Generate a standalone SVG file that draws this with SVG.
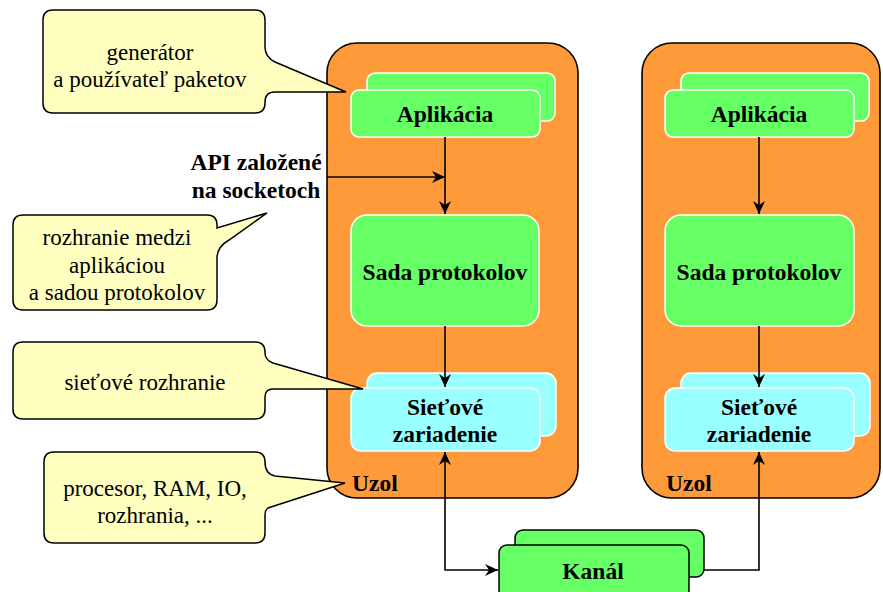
<svg xmlns="http://www.w3.org/2000/svg" width="883" height="592" viewBox="0 0 883 592">
<style>
.uzol{fill:#ff9a3a;stroke:#000;stroke-width:1.6}
.gw{fill:#66ff66;stroke:#fff;stroke-width:1.5}
.cw{fill:#99ffff;stroke:#fff;stroke-width:1.5}
.gk{fill:#66ff66;stroke:#000;stroke-width:1.5}
.call{fill:#ffffc0;stroke:#000;stroke-width:1.5}
.b{font-family:"Liberation Serif","Times New Roman",serif;font-weight:bold;font-size:23.5px;fill:#000;text-anchor:middle}
.r{font-family:"Liberation Serif","Times New Roman",serif;font-size:23px;fill:#000;text-anchor:middle}
.ln{fill:none;stroke:#000;stroke-width:1.6}
</style>
<defs>
<marker id="ah" markerUnits="userSpaceOnUse" markerWidth="14" markerHeight="12" refX="13" refY="6" orient="auto-start-reverse">
<path d="M0,0 L13,6 L0,12 L4,6 Z" fill="#000"/>
</marker>
</defs>

<g id="uzol1">
<rect class="uzol" x="327" y="43" width="251" height="455" rx="30"/>
<text class="b" x="352" y="491" style="text-anchor:start">Uzol</text>
</g>
<g id="uzol2">
<rect class="uzol" x="642" y="43" width="238" height="455" rx="30"/>
<text class="b" x="666" y="491" style="text-anchor:start">Uzol</text>
</g>

<g id="aplikacia1">
<rect class="gw" x="367" y="73" width="188" height="48" rx="8"/>
<rect class="gw" x="351" y="90" width="189" height="47" rx="8"/>
<text class="b" x="445" y="122">Aplikácia</text>
</g>
<g id="sada1">
<rect class="gw" x="351" y="215" width="188" height="111" rx="16"/>
<text class="b" x="445" y="280">Sada protokolov</text>
</g>
<g id="sietove1">
<rect class="cw" x="367" y="373" width="189" height="63" rx="10"/>
<rect class="cw" x="351" y="388" width="189" height="63" rx="10"/>
<text class="b" x="445" y="415">Sieťové</text>
<text class="b" x="445" y="442">zariadenie</text>
</g>

<g id="aplikacia2">
<rect class="gw" x="681" y="73" width="188" height="48" rx="8"/>
<rect class="gw" x="665" y="90" width="189" height="47" rx="8"/>
<text class="b" x="759" y="122">Aplikácia</text>
</g>
<g id="sada2">
<rect class="gw" x="665" y="215" width="189" height="111" rx="16"/>
<text class="b" x="759" y="280">Sada protokolov</text>
</g>
<g id="sietove2">
<rect class="cw" x="681" y="373" width="189" height="63" rx="10"/>
<rect class="cw" x="665" y="388" width="189" height="63" rx="10"/>
<text class="b" x="759" y="415">Sieťové</text>
<text class="b" x="759" y="442">zariadenie</text>
</g>

<g id="kanal">
<rect class="gk" x="515" y="530" width="189" height="47" rx="8"/>
<rect class="gk" x="499" y="545" width="190" height="55" rx="8"/>
<text class="b" x="593" y="579">Kanál</text>
</g>

<g id="api">
<text class="b" x="256" y="170">API založené</text>
<text class="b" x="256" y="198">na socketoch</text>
</g>

<g id="connectors">
<line class="ln" x1="445" y1="137" x2="445" y2="214" marker-end="url(#ah)"/>
<line class="ln" x1="327" y1="177" x2="445" y2="177" marker-end="url(#ah)"/>
<line class="ln" x1="445" y1="326" x2="445" y2="387" marker-end="url(#ah)"/>
<polyline class="ln" points="445,452 445,570 498,570" marker-start="url(#ah)" marker-end="url(#ah)"/>
<line class="ln" x1="759" y1="137" x2="759" y2="214" marker-end="url(#ah)"/>
<line class="ln" x1="759" y1="326" x2="759" y2="387" marker-end="url(#ah)"/>
<polyline class="ln" points="704,570 759,570 759,452" marker-end="url(#ah)"/>
</g>

<g id="callout1">
<path class="call" d="M53,10 H255 Q265,10 265,20 V47 Q265,57 275,62 L346,92 H275 Q265,92 265,102 V103 Q265,113 255,113 H53 Q43,113 43,103 V20 Q43,10 53,10 Z"/>
<text class="r" x="150" y="60">generátor</text>
<text class="r" x="150" y="87">a používateľ paketov</text>
</g>
<g id="callout2">
<path class="call" d="M23,215 H207 Q217,215 217,225 V228 L267,213 L229,240 Q217,247 217,258 V300 Q217,310 207,310 H23 Q13,310 13,300 V225 Q13,215 23,215 Z"/>
<text class="r" x="117" y="245">rozhranie medzi</text>
<text class="r" x="117" y="273">aplikáciou</text>
<text class="r" x="117" y="300">a sadou protokolov</text>
</g>
<g id="callout3">
<path class="call" d="M23,342 H255 Q265,342 265,352 V353 Q265,360 273,363 L363,389 H273 Q265,389 265,397 V409 Q265,419 255,419 H23 Q13,419 13,409 V352 Q13,342 23,342 Z"/>
<text class="r" x="145" y="390">sieťové rozhranie</text>
</g>
<g id="callout4">
<path class="call" d="M54,452 H255 Q265,452 265,462 Q265,474 275,476 L345,483 L268,508 Q265,510 265,515 V533 Q265,543 255,543 H54 Q44,543 44,533 V462 Q44,452 54,452 Z"/>
<text class="r" x="155" y="496">procesor, RAM, IO,</text>
<text class="r" x="155" y="523">rozhrania, ...</text>
</g>
</svg>
